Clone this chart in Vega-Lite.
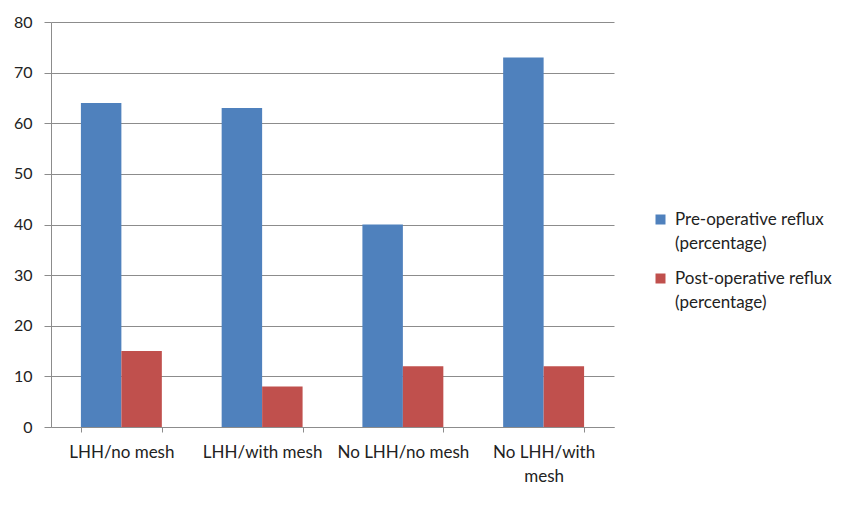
{
  "$schema": "https://vega.github.io/schema/vega-lite/v6.json",
  "width": 563,
  "height": 405,
  "autosize": {"type": "none"},
  "padding": {"left": 51, "top": 22, "right": 239, "bottom": 79},
  "background": "white",
  "data": {
    "values": [
      {"group": "LHH/no mesh", "series": "Pre-operative reflux (percentage)", "value": 64},
      {"group": "LHH/no mesh", "series": "Post-operative reflux (percentage)", "value": 15},
      {"group": "LHH/with mesh", "series": "Pre-operative reflux (percentage)", "value": 63},
      {"group": "LHH/with mesh", "series": "Post-operative reflux (percentage)", "value": 8},
      {"group": "No LHH/no mesh", "series": "Pre-operative reflux (percentage)", "value": 40},
      {"group": "No LHH/no mesh", "series": "Post-operative reflux (percentage)", "value": 12},
      {"group": "No LHH/with mesh", "series": "Pre-operative reflux (percentage)", "value": 73},
      {"group": "No LHH/with mesh", "series": "Post-operative reflux (percentage)", "value": 12}
    ]
  },
  "mark": {"type": "bar"},
  "encoding": {
    "x": {
      "field": "group",
      "type": "nominal",
      "sort": null,
      "scale": {"paddingInner": 0.425, "paddingOuter": 0.2125},
      "axis": {
        "title": null,
        "labelAngle": 0,
        "tickBand": "extent",
        "tickSize": 5,
        "labelPadding": 12,
        "labelFontSize": 17,
        "labelExpr": "datum.label == 'No LHH/with mesh' ? ['No LHH/with', 'mesh'] : datum.label"
      }
    },
    "xOffset": {
      "field": "series",
      "type": "nominal",
      "sort": ["Pre-operative reflux (percentage)", "Post-operative reflux (percentage)"],
      "scale": {"paddingInner": 0, "paddingOuter": 0}
    },
    "y": {
      "field": "value",
      "type": "quantitative",
      "scale": {"domain": [0, 80], "nice": false},
      "axis": {
        "title": null,
        "values": [0, 10, 20, 30, 40, 50, 60, 70, 80],
        "tickSize": 7,
        "labelPadding": 12,
        "grid": true
      }
    },
    "color": {
      "field": "series",
      "type": "nominal",
      "sort": ["Pre-operative reflux (percentage)", "Post-operative reflux (percentage)"],
      "scale": {
        "domain": ["Pre-operative reflux (percentage)", "Post-operative reflux (percentage)"],
        "range": ["#4F81BD", "#C0504D"]
      },
      "legend": {
        "title": null,
        "orient": "none",
        "legendX": 601,
        "legendY": 189,
        "symbolType": "square",
        "symbolSize": 100,
        "symbolStrokeWidth": 0,
        "labelFontSize": 17,
        "labelOffset": 6,
        "rowPadding": 17,
        "labelLimit": 300,
        "labelExpr": "datum.label == 'Pre-operative reflux (percentage)' ? ['Pre-operative reflux', '(percentage)'] : ['Post-operative reflux', '(percentage)']"
      }
    }
  },
  "config": {
    "view": {"stroke": null},
    "font": "Lato",
    "style": {"guide-label": {"lineHeight": 24}},
    "axis": {
      "labelFont": "Lato",
      "labelFontSize": 16,
      "labelColor": "#222222",
      "domainColor": "#8C8C8C",
      "tickColor": "#8C8C8C",
      "gridColor": "#8C8C8C",
      "domainWidth": 1,
      "tickWidth": 1,
      "gridWidth": 1
    },
    "legend": {
      "labelFont": "Lato",
      "labelColor": "#222222"
    }
  }
}
